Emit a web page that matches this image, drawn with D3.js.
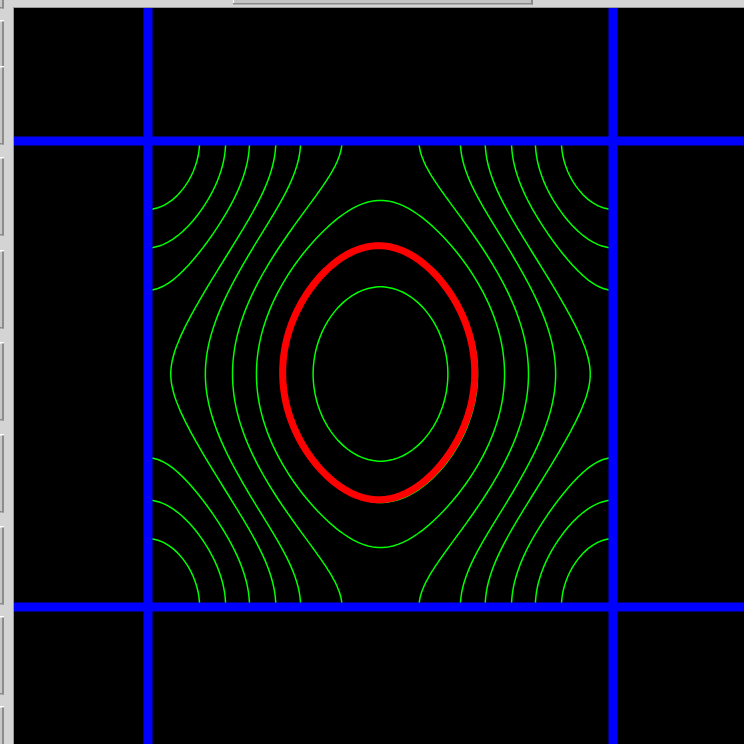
<!DOCTYPE html>
<html>
<head>
<meta charset="utf-8">
<script src="https://cdn.jsdelivr.net/npm/d3@7"></script>
<style>
  html, body { margin: 0; padding: 0; background: #d4d4d4; }
  svg { display: block; }
</style>
</head>
<body>
<svg id="chart" width="744" height="744"></svg>
<script>
// Band parameters of the dispersion
// E(kx, ky) = cos kx + ty*cos ky + tp*cos kx*cos ky + t2*cos 2ky
const ty = 0.61;
const tp = 0.14;
const t2 = -0.012;

// Contour levels (green) and the highlighted level (red)
const levels = [-1.281, -1.05, -0.792, -0.488, -0.216, 0.124, 0.478, 0.891, 1.297];
const redLevel = [0.905];

// Brillouin-zone boundaries in k units
const zoneX = [-Math.PI, Math.PI];
const zoneY = [-Math.PI, Math.PI];

// Sampling grid
const N = 94;

const svg = d3.select("#chart");
const W = 744, H = 744;

// window chrome
const panelLeft = 14, panelTop = 8;
svg.append("rect").attr("x", 0).attr("y", 0).attr("width", W).attr("height", H).attr("fill", "#d4d4d4");
// top scroll button
svg.append("rect").attr("x", 233).attr("y", 0).attr("width", 300).attr("height", 4).attr("fill", "#c4c4c4");
svg.append("rect").attr("x", 233).attr("y", 3).attr("width", 300).attr("height", 1.5).attr("fill", "#8a8a8a");
svg.append("rect").attr("x", 531).attr("y", 0).attr("width", 2).attr("height", 4.5).attr("fill", "#8a8a8a");
svg.append("rect").attr("x", 233).attr("y", 0).attr("width", 1).attr("height", 3).attr("fill", "#ffffff");
// left tool buttons
const buttonTops = [-70, 20, 66, 157, 250, 342, 434, 526, 616, 706];
buttonTops.forEach(t => {
  const g = svg.append("g");
  g.append("rect").attr("x", 0).attr("y", t).attr("width", 4).attr("height", 78).attr("fill", "#c8c8c8");
  g.append("rect").attr("x", 0).attr("y", t).attr("width", 4).attr("height", 1.5).attr("fill", "#ffffff");
  g.append("rect").attr("x", 2).attr("y", t + 1.5).attr("width", 2).attr("height", 77).attr("fill", "#8c8c8c");
  g.append("rect").attr("x", 0).attr("y", t + 77).attr("width", 4).attr("height", 1.5).attr("fill", "#8c8c8c");
});
// drawing canvas
svg.append("rect").attr("x", panelLeft - 1).attr("y", panelTop - 1)
  .attr("width", W - panelLeft + 1).attr("height", H - panelTop + 1).attr("fill", "#9a9a9a");
svg.append("rect").attr("x", panelLeft).attr("y", panelTop)
  .attr("width", W - panelLeft).attr("height", H - panelTop).attr("fill", "#000000");

// scales: k -> pixels
const x = d3.scaleLinear().domain(zoneX).range([148, 613]);
const y = d3.scaleLinear().domain(zoneY).range([607, 141]);

// sample the band on the zone
const kxs = d3.range(N).map(i => zoneX[0] + i * (zoneX[1] - zoneX[0]) / (N - 1));
const kys = d3.range(N).map(j => zoneY[1] - j * (zoneY[1] - zoneY[0]) / (N - 1));
const energy = (kx, ky) =>
  Math.cos(kx) + ty * Math.cos(ky) + tp * Math.cos(kx) * Math.cos(ky) + t2 * Math.cos(2 * ky);
const values = new Array(N * N);
for (let j = 0; j < N; j++) {
  for (let i = 0; i < N; i++) values[j * N + i] = energy(kxs[i], kys[j]);
}

// grid coordinates (value i sits at i + 0.5) -> k -> pixels
const gi = d3.scaleLinear().domain([0.5, N - 0.5]).range(zoneX);
const gj = d3.scaleLinear().domain([0.5, N - 0.5]).range([zoneY[1], zoneY[0]]);
const proj = d3.geoTransform({
  point(c, r) { this.stream.point(x(gi(c)), y(gj(r))); }
});
const path = d3.geoPath(proj);

svg.append("clipPath").attr("id", "zone")
  .append("rect").attr("x", x(zoneX[0])).attr("y", y(zoneY[1]))
  .attr("width", x(zoneX[1]) - x(zoneX[0])).attr("height", y(zoneY[0]) - y(zoneY[1]));

const plot = svg.append("g").attr("clip-path", "url(#zone)");

const iso = d3.contours().size([N, N]);

plot.append("g")
  .selectAll("path")
  .data(iso.thresholds(levels)(values))
  .join("path")
  .attr("d", path)
  .attr("fill", "none")
  .attr("stroke", "#00ff00")
  .attr("stroke-width", 1.5);

plot.append("g")
  .attr("transform", "translate(-1.8,-1.3)")
  .selectAll("path")
  .data(iso.thresholds(redLevel)(values))
  .join("path")
  .attr("d", path)
  .attr("fill", "none")
  .attr("stroke", "#ff0000")
  .attr("stroke-width", 7)
  .attr("stroke-linejoin", "round");

// zone boundary lines, repeated over the canvas
const bx = [zoneX[0], zoneX[1]];
const by = [zoneY[0], zoneY[1]];
svg.append("g").selectAll("rect")
  .data(bx).join("rect")
  .attr("x", d => x(d) - 4.5).attr("y", panelTop)
  .attr("width", 9).attr("height", H - panelTop)
  .attr("fill", "#0000ff");
svg.append("g").selectAll("rect")
  .data(by).join("rect")
  .attr("x", panelLeft).attr("y", d => y(d) - 4.5)
  .attr("width", W - panelLeft).attr("height", 9)
  .attr("fill", "#0000ff");
</script>
</body>
</html>
